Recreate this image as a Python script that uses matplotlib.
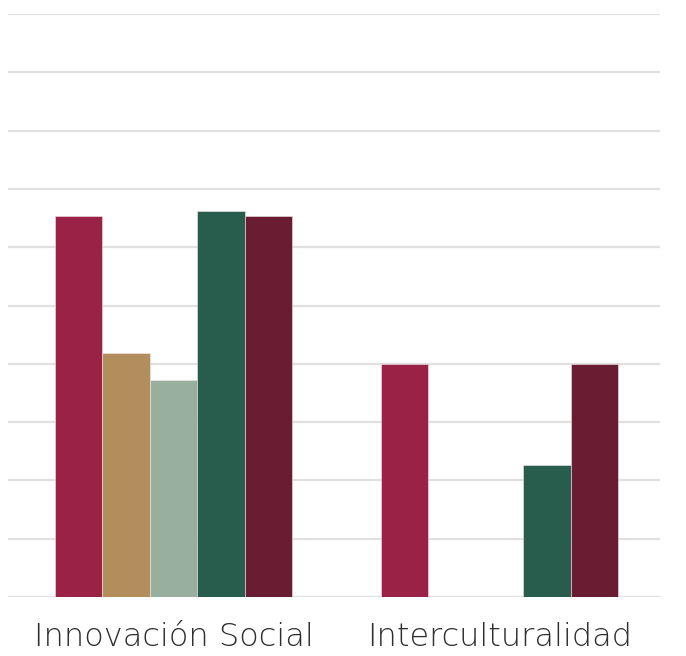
import matplotlib.pyplot as plt
import numpy as np

categories = ["Innovación Social", "Interculturalidad"]
serie_1 = [6.53, 4.0]
serie_2 = [4.18, 0.0]
serie_3 = [3.73, 0.0]
serie_4 = [6.62, 2.26]
serie_5 = [6.53, 4.0]

series = [serie_1, serie_2, serie_3, serie_4, serie_5]
colors = ["#9B2247", "#B38E5D", "#98AF9E", "#285C4D", "#691C32"]

fig = plt.figure(figsize=(6.86, 6.56), dpi=100)
ax = fig.add_axes([8 / 686, 59 / 656, 652 / 686, 583 / 656])

x = np.arange(len(categories))
width = 0.727 / len(series)
for i, (vals, col) in enumerate(zip(series, colors)):
    offset = (i - (len(series) - 1) / 2) * width
    ax.bar(x + offset, vals, width, color=col, edgecolor="#f4e6ea",
           linewidth=0.4, zorder=3)

ax.set_xlim(-0.5077, len(categories) - 0.5077)
ax.set_ylim(0, 10)
ax.set_yticks(np.arange(0, 11, 1))
ax.yaxis.grid(True, color="#e0e0e0", linewidth=1.6, zorder=0)
ax.set_yticklabels([])
ax.tick_params(axis="y", length=0)
ax.tick_params(axis="x", length=0, pad=18)
ax.set_xticks(x)
ax.set_xticklabels(categories, fontsize=23, color="#2e2e2e",
                   family="DejaVu Sans", fontweight="light")
for s in ax.spines.values():
    s.set_visible(False)

fig.savefig("out.png", dpi=100)
